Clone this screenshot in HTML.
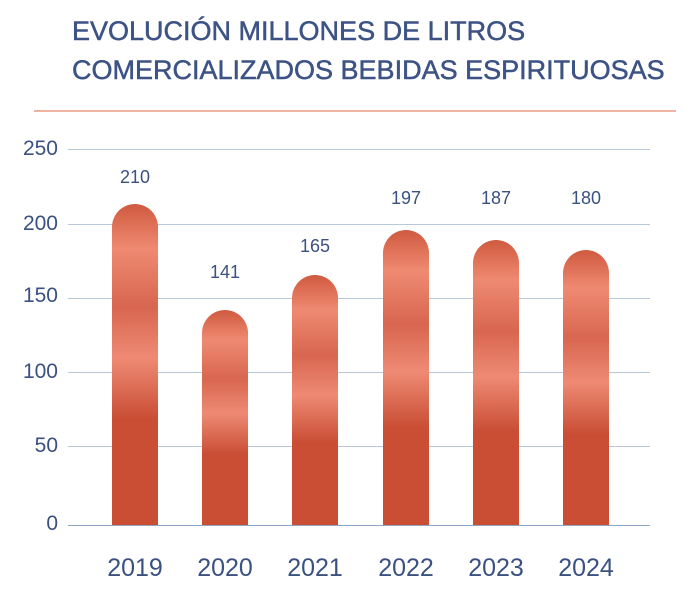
<!DOCTYPE html>
<html><head><meta charset="utf-8"><style>
body{margin:0;background:#fff;width:697px;height:614px;overflow:hidden;position:relative;font-family:"Liberation Sans",sans-serif;color:#3a5181}
.t{position:absolute;left:72px;font-size:27px;letter-spacing:0px;white-space:nowrap;color:#3d5385;-webkit-text-stroke:0.5px #3d5385}
.g{position:absolute;left:68px;width:582px;height:1px;background:#b7c8da}
.yl{position:absolute;left:0;width:58px;text-align:right;font-size:21px}
.bar{position:absolute;width:46px;border-radius:23px 23px 0 0;background:linear-gradient(to bottom,#cf5a3f 0%,#ef8a72 14%,#d86650 32%,#ee8a74 48%,#c94e34 67%,#c94e34 100%)}
.v{position:absolute;width:80px;text-align:center;font-size:18px}
.x{position:absolute;top:554px;width:90px;text-align:center;font-size:25px}
</style></head><body>
<div class="t" style="top:16px">EVOLUCIÓN MILLONES DE LITROS</div>
<div class="t" style="top:55px">COMERCIALIZADOS BEBIDAS ESPIRITUOSAS</div>
<div style="position:absolute;left:34px;top:110px;width:642px;height:2px;background:#f0b4a4"></div>
<div class="g" style="top:149px"></div><div class="yl" style="top:137px">250</div>
<div class="g" style="top:224px"></div><div class="yl" style="top:212px">200</div>
<div class="g" style="top:298px"></div><div class="yl" style="top:284px">150</div>
<div class="g" style="top:372px"></div><div class="yl" style="top:360px">100</div>
<div class="g" style="top:446px"></div><div class="yl" style="top:434px">50</div>
<div class="g" style="top:525px;background:#8fa6c2"></div><div class="yl" style="top:512px">0</div>
<div class="bar" style="left:112px;top:204px;height:321px"></div>
<div class="bar" style="left:202px;top:310px;height:215px"></div>
<div class="bar" style="left:292px;top:275px;height:250px"></div>
<div class="bar" style="left:383px;top:230px;height:295px"></div>
<div class="bar" style="left:473px;top:240px;height:285px"></div>
<div class="bar" style="left:563px;top:250px;height:275px"></div>
<div class="v" style="left:95px;top:167px">210</div>
<div class="v" style="left:185px;top:262px">141</div>
<div class="v" style="left:275px;top:236px">165</div>
<div class="v" style="left:366px;top:188px">197</div>
<div class="v" style="left:456px;top:188px">187</div>
<div class="v" style="left:546px;top:188px">180</div>
<div class="x" style="left:90px">2019</div>
<div class="x" style="left:180px">2020</div>
<div class="x" style="left:270px">2021</div>
<div class="x" style="left:361px">2022</div>
<div class="x" style="left:451px">2023</div>
<div class="x" style="left:541px">2024</div>
</body></html>
